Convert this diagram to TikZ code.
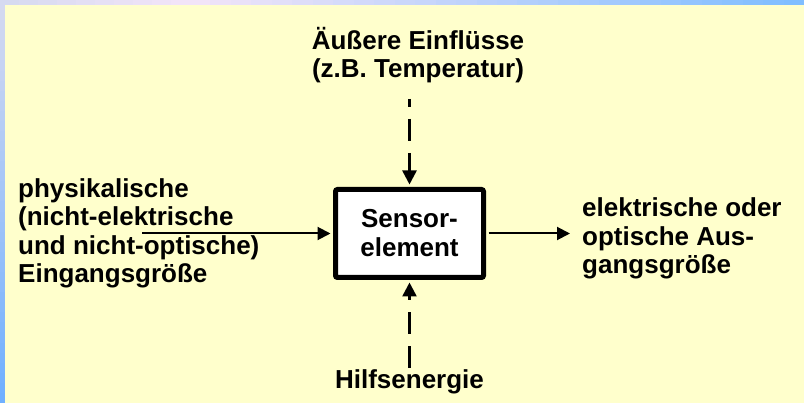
\documentclass[tikz,border=0pt]{standalone}
\usepackage{fontspec}
\setmainfont{Liberation Sans}
\usetikzlibrary{arrows.meta}
\definecolor{bgyellow}{RGB}{255,255,204}
\definecolor{framelav}{RGB}{214,218,240}
\definecolor{framepink}{RGB}{242,228,248}
\definecolor{frameblueA}{RGB}{128,190,255}
\definecolor{frameblueB}{RGB}{112,176,255}
\begin{document}
\begin{tikzpicture}[x=1pt,y=-1pt,
  lbl/.style={font=\bfseries\fontsize{26}{28.5}\selectfont, inner sep=0pt},
  sensorbox/.style={draw, line width=5pt, fill=white, rounded corners=2pt,
    minimum width=148pt, minimum height=88pt, inner sep=0pt, align=center,
    font=\bfseries\fontsize{26}{29}\selectfont},
  solidarrow/.style={line width=2pt, -{Triangle[length=13pt,width=13pt]}},
  dasharrow/.style={line width=2.5pt, dash pattern=on 22pt off 12pt,
    -{Triangle[length=14pt,width=14pt]}}]
\useasboundingbox (0,0) rectangle (804,403);
% background
\fill[bgyellow] (0,0) rectangle (804,403);
% left frame strip
\foreach \i in {0,...,39}{
  \pgfmathtruncatemacro{\pct}{100-\i*100/39}
  \fill[framelav!\pct!frameblueB] (0,{403/40*\i}) rectangle (5,{403/40*(\i+1)+0.5});
}
% top frame strip
\foreach \i in {0,...,9}{
  \pgfmathtruncatemacro{\pct}{100-\i*100/9}
  \fill[framelav!\pct!framepink] ({19*\i},0) rectangle ({19*(\i+1)+0.5},5);
}
\foreach \i in {0,...,29}{
  \pgfmathtruncatemacro{\pct}{100-\i*100/29}
  \fill[framepink!\pct!frameblueA] ({190+614/30*\i},0) rectangle ({190+614/30*(\i+1)+0.5},5);
}
% box
\node[sensorbox] (box) at (409.5,233.5) {Sensor-\\element};
% labels
\node[lbl, align=center] (ext) at (418,55) {Äußere Einflüsse\\(z.B. Temperatur)};
\node[lbl, align=left, anchor=west] (inp) at (18,233.5) {physikalische\\(nicht-elektrische\\und nicht-optische)\\Eingangsgröße};
\node[lbl, align=left, anchor=west] (out) at (582,238.5) {elektrische oder\\optische Aus-\\gangsgröße};
\node[lbl] (aux) at (409.5,382) {Hilfsenergie};
% connectors
\coordinate (inL) at (142,233.5);
\coordinate (outR) at (570,233.5);
\coordinate (topstart) at (409.5,99);
\coordinate (botstart) at (409.5,368);
\draw[solidarrow, shorten >=2.5pt] (inL) -- (box.west);
\draw[solidarrow, shorten <=2.5pt] (box.east) -- (outR);
\draw[dasharrow, dash phase=14pt, shorten >=2.5pt] (topstart) -- (box.north);
\draw[dasharrow, shorten >=2.5pt] (botstart) -- (box.south);
\end{tikzpicture}
\end{document}
